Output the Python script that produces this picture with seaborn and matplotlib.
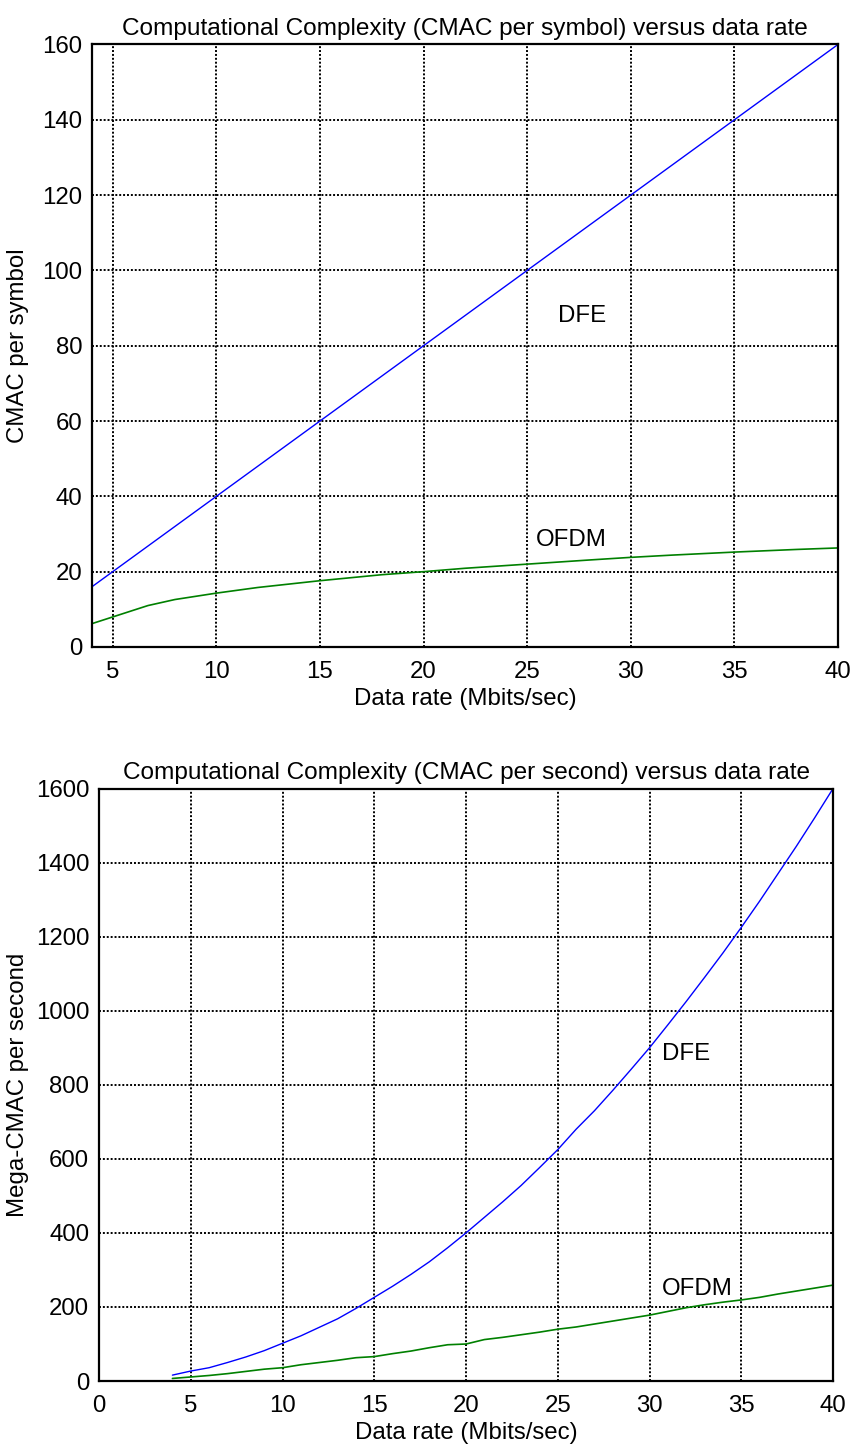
import numpy as np
import pandas as pd
import matplotlib
matplotlib.use("Agg")
import matplotlib.pyplot as plt
import seaborn as sns

# Complexity per symbol (CMAC per symbol) versus data rate
rate_sym_dfe = [4, 10, 20, 30, 40]
cmac_sym_dfe = [16, 40, 80, 120, 160]

rate_sym_ofdm = [4, 6.7, 8, 10, 12, 15, 18, 20, 22, 25, 28, 30, 32, 35, 38, 40]
cmac_sym_ofdm = [6.2, 11.0, 12.6, 14.3, 15.8, 17.6, 19.2, 20.0, 20.9, 22.0,
                 23.1, 23.8, 24.4, 25.2, 25.9, 26.3]

# Complexity per second (Mega-CMAC per second) versus data rate
rate_sec = [4, 5, 6, 7, 8, 9, 10, 11, 12, 13, 14, 15, 16, 17, 18, 19, 20, 21,
            22, 23, 24, 25, 26, 27, 28, 29, 30, 31, 32, 33, 34, 35, 36, 37, 38,
            39, 40]
mcmac_sec_dfe = [16, 27, 36, 50, 65, 82, 102, 122, 145, 168, 196, 226, 256,
                 288, 322, 360, 400, 442, 484, 528, 576, 625, 680, 730, 785,
                 842, 900, 962, 1025, 1090, 1156, 1225, 1296, 1370, 1444,
                 1521, 1600]
mcmac_sec_ofdm = [7, 11, 15, 20, 26, 32, 36, 44, 50, 56, 63, 66, 74, 81, 90,
                  98, 100, 112, 118, 125, 132, 140, 146, 154, 162, 170, 178,
                  188, 198, 206, 213, 219, 226, 235, 243, 251, 259]

top_xticks = [5, 10, 15, 20, 25, 30, 35, 40]
top_yticks = [0, 20, 40, 60, 80, 100, 120, 140, 160]
bot_xticks = [0, 5, 10, 15, 20, 25, 30, 35, 40]
bot_yticks = [0, 200, 400, 600, 800, 1000, 1200, 1400, 1600]

sns.set_style("white")
plt.rcParams["font.family"] = ["Liberation Sans", "DejaVu Sans"]
plt.rcParams["font.size"] = 17
plt.rcParams["text.color"] = "black"
plt.rcParams["axes.labelcolor"] = "black"
plt.rcParams["xtick.color"] = "black"
plt.rcParams["ytick.color"] = "black"

BLUE = "#0000ff"
GREEN = "#008000"
FS = 17.3

fig = plt.figure(figsize=(8.55, 14.49), dpi=100)
ax1 = fig.add_axes([0.1076, 0.5535, 0.8725, 0.4158])
ax2 = fig.add_axes([0.1158, 0.0469, 0.8585, 0.4089])

df_sym_dfe = pd.DataFrame({"rate": rate_sym_dfe, "cmac": cmac_sym_dfe})
df_sym_ofdm = pd.DataFrame({"rate": rate_sym_ofdm, "cmac": cmac_sym_ofdm})
df_sec = pd.DataFrame({"rate": rate_sec, "dfe": mcmac_sec_dfe,
                       "ofdm": mcmac_sec_ofdm})

sns.lineplot(data=df_sym_dfe, x="rate", y="cmac", ax=ax1, color=BLUE, lw=1.0)
sns.lineplot(data=df_sym_ofdm, x="rate", y="cmac", ax=ax1, color=GREEN, lw=1.2)
sns.lineplot(data=df_sec, x="rate", y="dfe", ax=ax2, color=BLUE, lw=1.0)
sns.lineplot(data=df_sec, x="rate", y="ofdm", ax=ax2, color=GREEN, lw=1.2)

def style_axes(ax, xlim, ylim, xticks, yticks, title, ylabel, ylabel_x):
    ax.set_xlim(*xlim)
    ax.set_ylim(*ylim)
    ax.set_xticks(xticks)
    ax.set_yticks(yticks)
    ax.grid(True, color="black", linestyle=(0, (1, 1)), linewidth=1.4)
    ax.set_axisbelow(True)
    for sp in ax.spines.values():
        sp.set_visible(True)
        sp.set_color("black")
        sp.set_linewidth(1.6)
    ax.tick_params(axis="both", length=0, labelsize=FS, colors="black")
    ax.tick_params(axis="x", pad=10)
    ax.tick_params(axis="y", pad=7)
    ax.set_title(title, fontsize=FS + 0.3, pad=7, color="black")
    ax.set_xlabel("Data rate (Mbits/sec)", fontsize=FS, labelpad=4)
    ax.set_ylabel(ylabel, fontsize=FS, va="center")
    ax.yaxis.set_label_coords(ylabel_x, 0.5)

style_axes(ax1, (4, 40), (0, 160), top_xticks, top_yticks,
           "Computational Complexity (CMAC per symbol) versus data rate",
           "CMAC per symbol", -0.099)
style_axes(ax2, (0, 40), (0, 1600), bot_xticks, bot_yticks,
           "Computational Complexity (CMAC per second) versus data rate",
           "Mega-CMAC per second", -0.110)

ax1.text(26.5, 88, "DFE", fontsize=FS, va="center", ha="left")
ax1.text(25.4, 28.4, "OFDM", fontsize=FS, va="center", ha="left")
ax2.text(30.7, 884, "DFE", fontsize=FS, va="center", ha="left")
ax2.text(30.7, 249, "OFDM", fontsize=FS, va="center", ha="left")

fig.savefig("out.png", dpi=100, facecolor="white")
